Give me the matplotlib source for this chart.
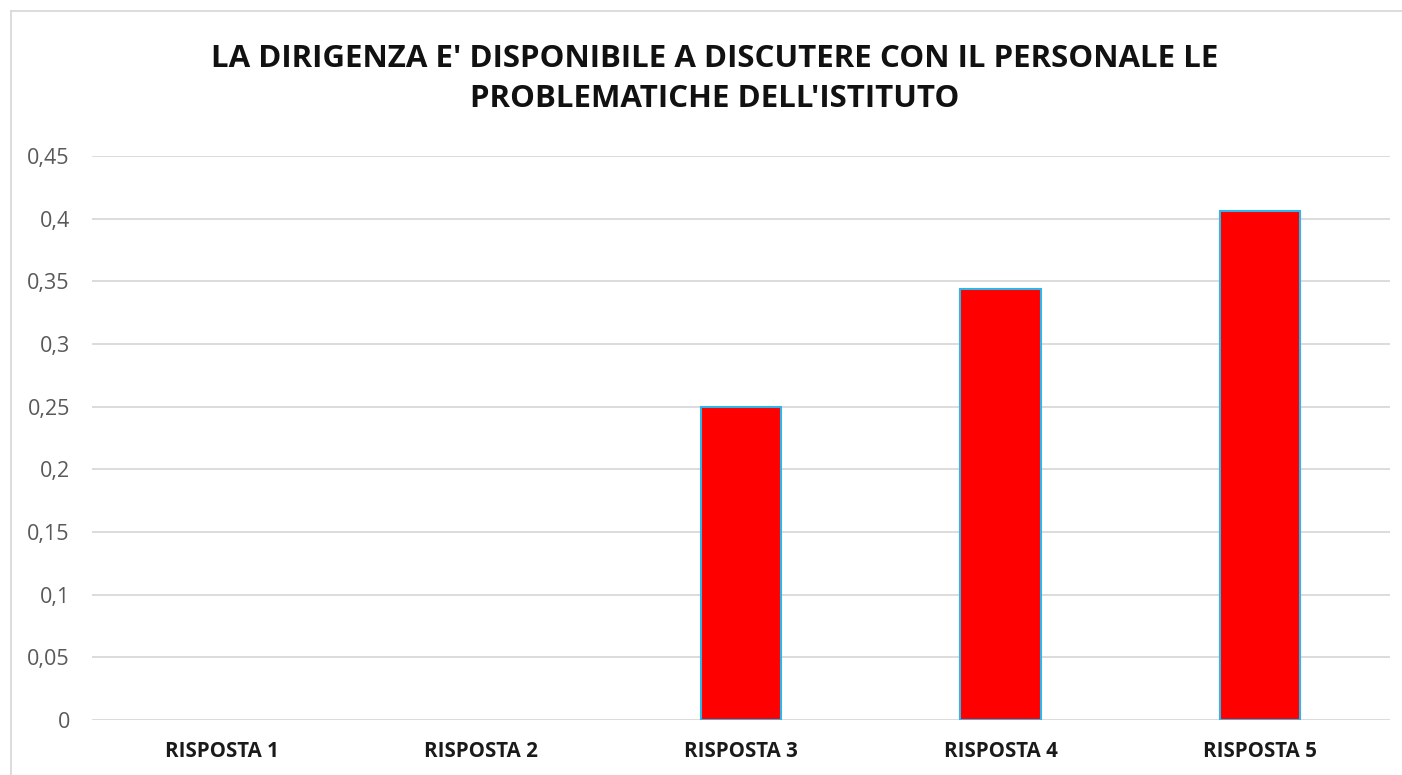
import numpy as np
import matplotlib.pyplot as plt
from matplotlib.lines import Line2D

categorie = ['RISPOSTA 1', 'RISPOSTA 2', 'RISPOSTA 3', 'RISPOSTA 4', 'RISPOSTA 5']
valori = [0, 0, 0.25, 0.34375, 0.40625]
yticks = [0, 0.05, 0.1, 0.15, 0.2, 0.25, 0.3, 0.35, 0.4, 0.45]
ylabels = ['0', '0,05', '0,1', '0,15', '0,2', '0,25', '0,3', '0,35', '0,4', '0,45']
titolo = "LA DIRIGENZA E' DISPONIBILE A DISCUTERE CON IL PERSONALE LE\nPROBLEMATICHE DELL'ISTITUTO"

plt.rcParams['font.family'] = ['Open Sans', 'DejaVu Sans']

fig = plt.figure(figsize=(14.02, 7.75), dpi=100)
ax = fig.add_axes([92 / 1402, 1 - 720 / 775, (1390 - 92) / 1402, (720 - 156) / 775])

x = np.arange(len(categorie))
# barre a zero senza bordo
lw = [1.5 if v > 0 else 0 for v in valori]
ax.bar(x, valori, width=0.31, color='#ff0000', edgecolor='#2fb5e8', linewidth=lw, zorder=3)

ax.set_xlim(-0.5, len(categorie) - 0.5)
ax.set_ylim(0, 0.45)
ax.set_yticks(yticks)
ax.set_yticklabels(ylabels, fontsize=15.5, color='#595959')
ax.set_xticks(x)
ax.set_xticklabels(categorie, fontsize=14.8, fontweight='bold', color='#1a1a1a')
ax.tick_params(axis='both', length=0)
ax.tick_params(axis='y', pad=16)
ax.tick_params(axis='x', pad=15)
ax.grid(axis='y', color='#d9d9d9', linewidth=1.3, zorder=0)
for s in ax.spines.values():
    s.set_visible(False)

fig.text(715 / 1402, 1 - 79 / 775, titolo, ha='center', va='center', fontsize=22.5,
         fontweight='bold', color='#111111', linespacing=1.45)

# cornice grigia
fig.add_artist(Line2D([11 / 1402, 11 / 1402], [0, 1 - 11 / 775], color='#d9d9d9', lw=1.3))
fig.add_artist(Line2D([11 / 1402, 1], [1 - 11 / 775, 1 - 11 / 775], color='#d9d9d9', lw=1.3))

fig.savefig('out.png', dpi=100)
